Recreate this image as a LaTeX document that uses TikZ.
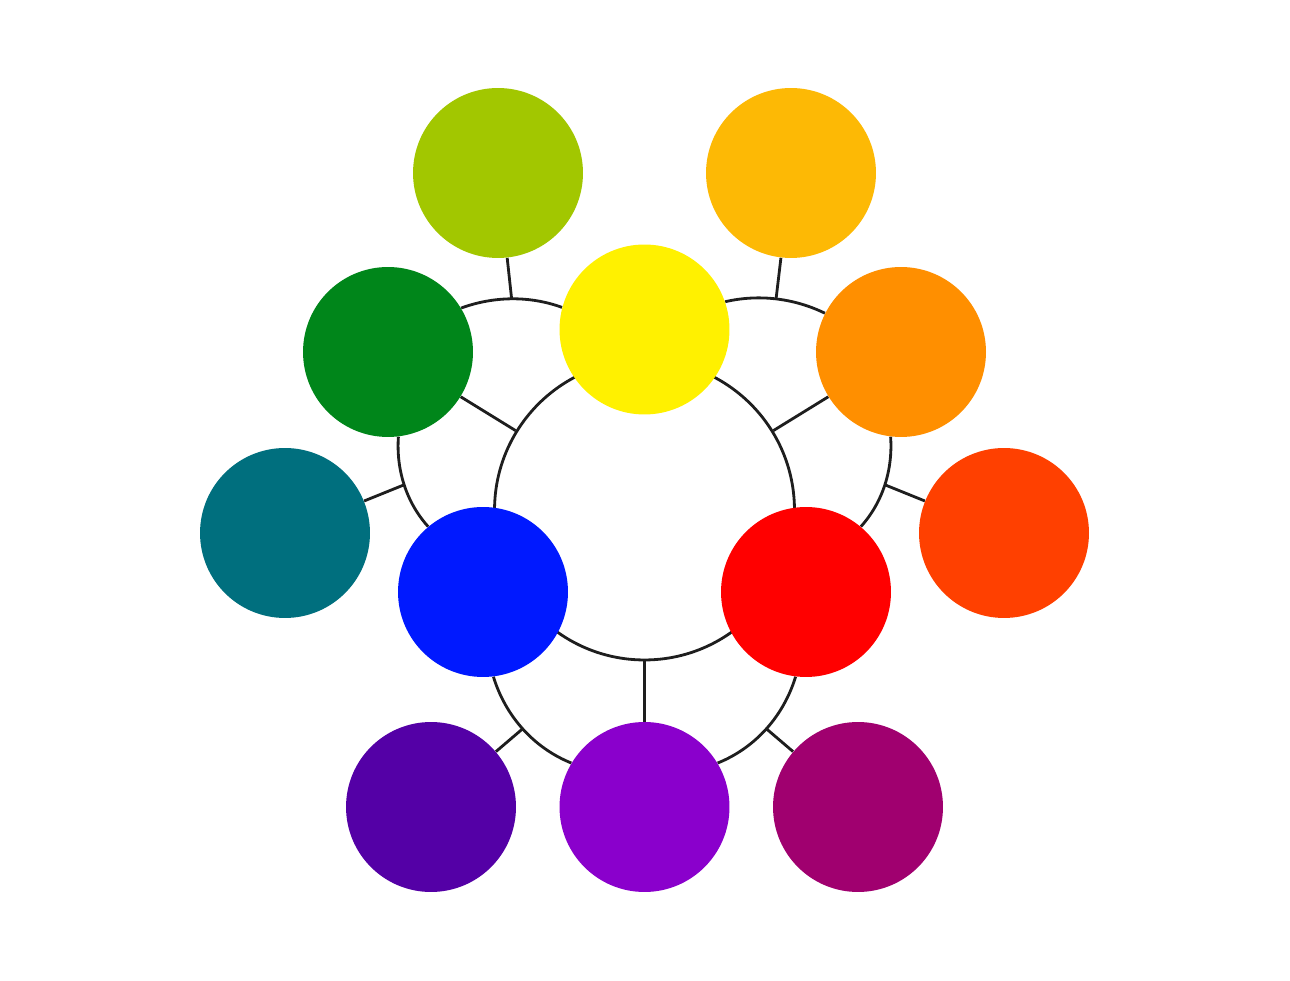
\documentclass[tikz,border=0pt]{standalone}
\usetikzlibrary{backgrounds}

\definecolor{wire}{HTML}{1E1E1E}
\definecolor{cY}{HTML}{FFF100}
\definecolor{cG}{HTML}{00861A}
\definecolor{cO}{HTML}{FF8F00}
\definecolor{cB}{HTML}{0019FF}
\definecolor{cR}{HTML}{FF0000}
\definecolor{cP}{HTML}{8A00CC}
\definecolor{cLG}{HTML}{A2C700}
\definecolor{cAM}{HTML}{FDB905}
\definecolor{cTL}{HTML}{006F7E}
\definecolor{cRO}{HTML}{FF4000}
\definecolor{cIN}{HTML}{5400A6}
\definecolor{cMG}{HTML}{A0006F}

\begin{document}
\begin{tikzpicture}[x=0.02cm, y=0.02cm,
  ball/.style={circle, inner sep=0pt, minimum size=3.4cm},
  link/.style={draw=wire, line width=1.6pt}]

\useasboundingbox (0,0) rectangle (1290,980);

% Hub ring
\node[circle, draw=wire, line width=1.6pt, inner sep=0pt, minimum size=6cm] (H) at (644.5,470) {};

% Inner circles
\node[ball, fill=cY] (Y) at (644.5,650.5) {};
\node[ball, fill=cB] (B) at (483,388) {};
\node[ball, fill=cR] (R) at (806,388) {};
\node[ball, fill=cG] (G) at (388,628) {};
\node[ball, fill=cO] (O) at (901,628) {};
\node[ball, fill=cP] (P) at (644.5,173) {};

% Outer circles
\node[ball, fill=cLG] (LG) at (498,807) {};
\node[ball, fill=cAM] (AM) at (791,807) {};
\node[ball, fill=cTL] (TL) at (285,447) {};
\node[ball, fill=cRO] (RO) at (1004,447) {};
\node[ball, fill=cIN] (IN) at (431,173) {};
\node[ball, fill=cMG] (MG) at (858,173) {};

\begin{scope}[on background layer]
% Spokes from the hub
\draw[link] (H) -- (G);
\draw[link] (H) -- (O);
\draw[link] (H) -- (P);

% Arcs between inner circles
\draw[link] (G.31) to[out=20, in=160, looseness=.88] coordinate[pos=.5] (J1) (Y.165);
\draw[link] (Y.19) to[out=13, in=154, looseness=.88] coordinate[pos=.5] (J2) (O.153);
\draw[link] (G.277) to[out=266, in=132, looseness=.89] coordinate[pos=.5] (J3) (B.130);
\draw[link] (O.263) to[out=274, in=48, looseness=.89] coordinate[pos=.5] (J4) (R.50);
\draw[link] (B.277) to[out=287, in=158, looseness=.9] coordinate[pos=.5] (J5) (P.149);
\draw[link] (P.31) to[out=22, in=253, looseness=.9] coordinate[pos=.5] (J6) (R.263);

% Stems to outer circles
\draw[link] (J1) -- (LG);
\draw[link] (J2) -- (AM);
\draw[link] (J3) -- (TL);
\draw[link] (J4) -- (RO);
\draw[link] (J5) -- (IN);
\draw[link] (J6) -- (MG);
\end{scope}
\end{tikzpicture}
\end{document}
